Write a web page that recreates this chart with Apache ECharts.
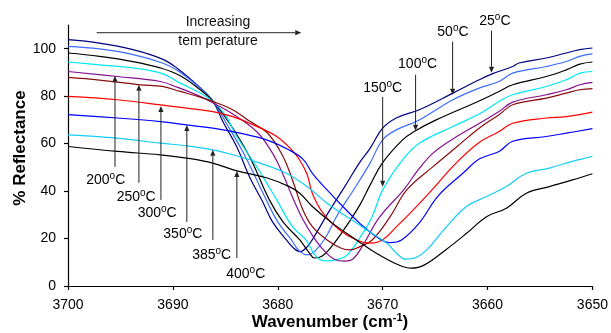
<!DOCTYPE html>
<html><head><meta charset="utf-8">
<script src="https://cdn.jsdelivr.net/npm/echarts@6/dist/echarts.min.js"></script>
<style>html,body{margin:0;padding:0;background:#fff}#c{width:611px;height:333px}</style>
</head><body><div id="c"></div>
<script>
// ---- data: [wavenumber (cm-1), % reflectance] ----
const s25 = [[3700,103.8],[3697,102.4],[3693.8,99.6],[3691,95.6],[3689.6,91.8],[3687.4,83.6],[3686.2,78],[3685.2,69],[3683.9,58.6],[3682.7,46],[3681.5,36],[3680.5,27],[3679.2,19.5],[3678.5,16],[3677.9,14.5],[3677.2,16.5],[3676.5,21],[3675.2,30.8],[3673.6,42],[3672.2,52],[3671.2,58],[3670,66.5],[3668.7,70.8],[3666.5,74.3],[3663.3,81.3],[3660.8,86.9],[3659.5,89.5],[3657.6,92.5],[3657,94],[3654.4,96.1],[3652.5,98.2],[3651.2,99.6],[3650,100.3]];
const s50 = [[3700,101],[3697,99.9],[3693.8,97.5],[3691,94],[3689.6,90.9],[3687.4,83.4],[3686.2,78],[3684.9,68.6],[3683.1,54.6],[3681.1,36.3],[3680,27],[3678.7,19.4],[3678,15],[3677.2,13.1],[3676.5,14.5],[3675.5,20],[3674.3,30],[3672.7,41],[3671.2,51.8],[3670,61.6],[3668.7,65.8],[3666.5,70],[3663.3,78.5],[3660.8,83.4],[3658.9,86.2],[3657.6,89.7],[3654.4,92.5],[3652.5,94.6],[3651.2,96.8],[3650,97.8]];
const s100 = [[3700,98.2],[3697,96.8],[3693.8,94.6],[3691.2,91.9],[3689.3,88.6],[3687.4,82.7],[3686.2,78],[3684.6,68.6],[3682.7,54.6],[3680.8,36.3],[3679.5,27],[3677.9,19.4],[3677,14],[3676.5,11.8],[3675.8,12.5],[3674.8,17],[3673.5,25],[3672.2,34],[3671.2,42.5],[3670,52],[3668.1,61.6],[3667,65.1],[3664.9,70],[3660.8,78],[3658.9,82],[3657.6,84.8],[3654.4,88.3],[3652.5,91.1],[3651.2,93.5],[3650,94.4]];
const s150 = [[3700,94.4],[3697,93.2],[3693.8,91.9],[3691,89.5],[3689.3,85.5],[3687.4,81.3],[3686.2,77.8],[3685,72],[3683.9,62.9],[3682,50.2],[3680.1,36.3],[3678.6,25],[3677.3,19.4],[3676.6,14],[3676,11.2],[3675.3,10.6],[3674.5,11],[3673.4,13],[3671.9,22.2],[3671,29.2],[3670,40.5],[3668.1,53.2],[3666.5,60.2],[3663.3,67.2],[3660.8,72.5],[3658.9,77.8],[3657.6,80.6],[3654.4,84.1],[3652.5,86.9],[3651.2,89.7],[3650,90.4]];
const s200 = [[3700,90.4],[3695.3,88.3],[3691.2,86.2],[3689.6,83.8],[3687.4,79.9],[3686.2,77.2],[3684.3,72.5],[3682,65],[3680.5,56],[3679.5,47],[3678.6,37.5],[3677.6,28],[3676.5,20],[3675.5,14.5],[3674.6,11.3],[3673.6,10.5],[3672.8,11.5],[3671.9,17],[3670.3,29],[3668,40.5],[3666.6,49],[3665.2,56],[3663.3,62],[3660.8,68.5],[3658.9,73.5],[3657.6,77.5],[3654.4,80.6],[3652.5,82.7],[3651.2,84.8],[3650,85.8]];
const s250 = [[3700,87.9],[3697,86.8],[3693.1,84.8],[3691,84.1],[3689.3,82],[3687.4,79.6],[3686.2,77.8],[3684.3,74.3],[3682.7,69.5],[3681,64.6],[3679.5,54.6],[3678.6,44.7],[3677.6,32],[3676.7,25],[3675.3,19.4],[3674,16],[3673.1,15.2],[3672.2,16.5],[3671,19.4],[3669.3,29.1],[3667.7,40.5],[3665.2,50.3],[3662.9,58.8],[3660.8,66.5],[3658.9,72.2],[3657.6,76.4],[3654.4,79.2],[3652.5,81.3],[3651.2,82.7],[3650,83.2]];
const s300 = [[3700,79.9],[3695.3,78.5],[3690.6,76],[3688.7,75],[3686.2,73.5],[3684.3,71.4],[3682.4,68],[3680.1,63],[3678.6,57],[3677.9,53],[3677.2,47],[3676.7,39],[3675.7,30.8],[3674.1,23.6],[3672.5,19.4],[3671.2,18.1],[3670,19.5],[3668.7,24.9],[3667.1,32],[3665.4,40],[3663,51.8],[3660.8,60.5],[3658.9,65.1],[3657.6,68.6],[3654.4,70.8],[3652.5,71.4],[3650,73.3]];
const s350 = [[3700,72.2],[3695.3,70.8],[3691.2,69.3],[3688.7,67.9],[3686.2,66.5],[3683.6,64.4],[3681,61.5],[3679,57.5],[3677.6,53.5],[3676.7,47.5],[3675.3,40.5],[3673.8,33.5],[3672.2,26.5],[3670.6,20.8],[3669.3,18.3],[3668.2,19.4],[3666.5,26.6],[3664.7,38],[3662.3,47.7],[3660.8,53.5],[3658.9,56.7],[3657.6,61],[3654.4,63],[3652.5,64.4],[3650,66.3]];
const s385 = [[3700,63.7],[3695.3,62.3],[3691.2,60.2],[3688.7,59.1],[3686.2,57.4],[3684.3,55.3],[3681.7,51.8],[3679.2,47.5],[3677.2,41.9],[3675.3,34.9],[3673.4,29.2],[3671.5,23.6],[3669.6,18],[3668.6,13.5],[3667.8,11.3],[3666.8,12],[3665.8,15.2],[3663.9,25],[3662,33.5],[3660.1,37.7],[3658.2,41.9],[3656.3,47.5],[3654.1,49.7],[3651.9,52.5],[3650,54.6]];
const s400 = [[3700,58.8],[3695.3,56.7],[3691.2,55.3],[3688.7,53.9],[3686.2,51.8],[3683.9,48.5],[3681,45.5],[3678.9,41.9],[3677.9,39.1],[3676.7,33.5],[3674.8,26.5],[3672.5,19.4],[3670.6,13.8],[3668.8,9.5],[3667.3,7.5],[3666,8.9],[3664,15.2],[3662,22.2],[3660.1,29.2],[3658.2,32.8],[3656.3,39.1],[3654.1,41.9],[3651.9,44.7],[3650,47.3]];
const seriesNames = ['25','50','100','150','200','250','300','350','385','400'];
const seriesData = [s25,s50,s100,s150,s200,s250,s300,s350,s385,s400];
const xTicks = [3650,3660,3670,3680,3690,3700];
const yTicks = [0,20,40,60,80,100];
// annotations (data coordinates): [label, labelPos, arrowStart, arrowTip]
const leftNotes = [
  ['200',[3696.4,44.7],[3695.52,50.2],[3695.52,88.6]],
  ['250',[3693.5,37.6],[3693.24,43.5],[3693.24,84.8]],
  ['300',[3691.5,30.8],[3691.14,36.3],[3691.14,75.9]],
  ['350',[3689.05,21.9],[3688.67,27],[3688.67,67.9]],
  ['385',[3686.3,13.1],[3686.19,19.4],[3686.19,57.4]],
  ['400',[3683.05,5.1],[3683.9,11.8],[3683.9,48.5]]
];
const rightNotes = [
  ['150',[3670,83.5],[3670,79.7],[3670,41.8]],
  ['100',[3666.67,93.7],[3666.86,89],[3666.86,65.4]],
  ['50',[3663.3,107.2],[3663.33,103],[3663.33,80.6]],
  ['25',[3659.3,111.8],[3659.62,107.6],[3659.62,89.9]]
];
const trendArrow = [[3697.27,106.75],[3677.76,106.75]];
const trendText = [['Increasing',[3685.7,111.4]],['tem perature',[3685.7,103]]];

const colors = ['#00007f','#3c6cff','#000000','#00e8f4','#85108f','#860d0d','#ff0000','#0000ff','#12cdf6','#000000'];
const F = '"Liberation Sans", Arial, sans-serif';

const chart = echarts.init(document.getElementById('c'), null, {renderer:'canvas'});
const option = {
  animation:false,
  backgroundColor:'#fff',
  grid:{left:68,right:18,top:25,bottom:47,containLabel:false},
  xAxis:{type:'value',min:3650,max:3700,interval:10,inverse:true,
    axisLine:{onZero:false,lineStyle:{color:'#000',width:1.2}},
    axisTick:{show:true,length:4,lineStyle:{color:'#000',width:1.2}},
    axisLabel:{color:'#000',fontSize:14,fontFamily:F,margin:12,formatter:v=>String(v)},
    splitLine:{show:false}},
  yAxis:{type:'value',min:0,max:110,interval:20,
    axisLine:{show:true,lineStyle:{color:'#000',width:1.2}},
    axisTick:{show:true,length:4,lineStyle:{color:'#000',width:1.2},customValues:yTicks},
    axisLabel:{color:'#000',fontSize:14,fontFamily:F,margin:12,customValues:yTicks,formatter:v=>String(v)},
    splitLine:{show:false}},
  series: seriesData.map((d,i)=>({
    name:seriesNames[i]+'°C', type:'line', data:d, showSymbol:false, symbol:'none',
    smooth:0.4, clip:false,
    lineStyle:{color:colors[i],width:1.2}, itemStyle:{color:colors[i]}, z:2+i
  }))
};
chart.setOption(option);

const P = v => chart.convertToPixel({xAxisIndex:0,yAxisIndex:0}, v);
function arrowEls(a,b){
  const from=P(a), to=P(b);
  const dx=to[0]-from[0], dy=to[1]-from[1], L=Math.hypot(dx,dy), ux=dx/L, uy=dy/L;
  const hl=6, hw=2.6, bx=to[0]-ux*hl, by=to[1]-uy*hl;
  return [
    {type:'line',z:100,shape:{x1:from[0],y1:from[1],x2:bx,y2:by},style:{stroke:'#222',lineWidth:1}},
    {type:'polygon',z:100,shape:{points:[[to[0],to[1]],[bx-uy*hw,by+ux*hw],[bx+uy*hw,by-ux*hw]]},style:{fill:'#222'}}
  ];
}
const rich = {n:{fontSize:14,fontFamily:F,color:'#111'}, s:{fontSize:10,fontFamily:F,color:'#111',verticalAlign:'top',lineHeight:17}};
function tempLabel(t,pos){
  const p=P(pos);
  return {type:'text',z:100,x:p[0],y:p[1],style:{text:'{n|'+t+'}{s|o}{n|C}',rich:rich,align:'center',verticalAlign:'middle'}};
}
const g=[];
leftNotes.concat(rightNotes).forEach(n=>{ g.push(...arrowEls(n[2],n[3])); g.push(tempLabel(n[0],n[1])); });
g.push(...arrowEls(trendArrow[0],trendArrow[1]));
trendText.forEach(t=>{const p=P(t[1]); g.push({type:'text',z:100,x:p[0],y:p[1],style:{text:t[0],font:'14px '+F,fill:'#111',align:'center',verticalAlign:'middle'}});});
// axis titles
g.push({type:'text',z:100,x:20,y:148,rotation:Math.PI/2,style:{text:'% Reflectance',font:'bold 17px '+F,fill:'#000',align:'center',verticalAlign:'middle'}});
g.push({type:'text',z:100,x:330,y:322,style:{text:'{b|Wavenumber (cm}{u|-1}{b|)}',rich:{b:{fontSize:17,fontWeight:'bold',fontFamily:F,color:'#000'},u:{fontSize:11,fontWeight:'bold',fontFamily:F,color:'#000',verticalAlign:'top',lineHeight:20}},align:'center',verticalAlign:'middle'}});
chart.setOption({graphic:g});
</script>
</body></html>
